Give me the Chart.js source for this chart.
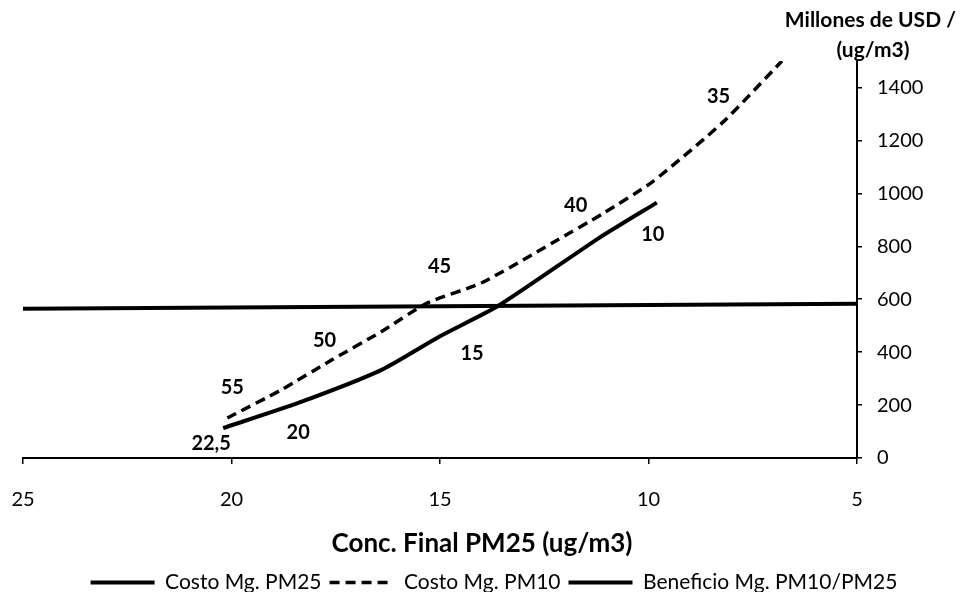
<!DOCTYPE html>
<html>
<head>
<meta charset="utf-8">
<script src="https://cdn.jsdelivr.net/npm/chart.js@4/dist/chart.umd.min.js"></script>
<style>
  html, body { margin: 0; padding: 0; background: #fff; }
  #wrap { width: 965px; height: 592px; }
</style>
</head>
<body>
<div id="wrap"><canvas id="myChart"></canvas></div>
<script>
// Costo marginal PM25 (linea continua)
const pm25X = [20.2, 18.4, 16.4, 15.0, 13.6, 11.2, 9.8];
const pm25Y = [113, 208, 333, 460, 575, 830, 965];
const pm25Labels = ["22,5", "20", "", "15", "", "", "10"];

// Costo marginal PM10 (linea discontinua)
const pm10X = [20.1, 18.8, 17.6, 16.4, 15.3, 14.0, 12.3, 11.1, 9.9, 8.2, 6.8];
const pm10Y = [151, 258, 370, 478, 586, 662, 813, 923, 1044, 1271, 1500];
const pm10Labels = ["55", "", "50", "", "45", "", "", "40", "", "35", ""];

// Beneficio marginal
const benX = [25, 5];
const benY = [564, 583];

const xTicks = [25, 20, 15, 10, 5];
const yTitle = ["Millones de USD /", "(ug/m3)"];
const xTitle = "Conc. Final PM25 (ug/m3)";

const FONT = "Lato, 'Open Sans', sans-serif";

function pts(xs, ys) {
  return xs.map((x, i) => ({x: x, y: ys[i]}));
}

// label offsets (px) relative to each labelled point
const labelOffsets = {
  0: {"22,5": [-12, 15], "20": [0, 30], "15": [32, 17], "10": [-4, 32]},
  1: {"55": [5, -30], "50": [-7, -20], "45": [12, -36], "40": [-27, -8], "35": [-5, -25]}
};
const pointLabels = [pm25Labels, pm10Labels];

const labelPlugin = {
  id: "pointLabels",
  afterDatasetsDraw(chart) {
    const ctx = chart.ctx;
    ctx.save();
    ctx.font = "bold 20px " + FONT;
    ctx.fillStyle = "#000";
    ctx.textAlign = "center";
    ctx.textBaseline = "middle";
    pointLabels.forEach((labs, di) => {
      const meta = chart.getDatasetMeta(di);
      labs.forEach((txt, i) => {
        if (!txt) return;
        const el = meta.data[i];
        const off = labelOffsets[di][txt] || [0, -18];
        ctx.fillText(txt, el.x + off[0], el.y + off[1]);
      });
    });
    // y axis title on top of right axis
    const ax = chart.scales.y.left;
    ctx.font = "bold 21px " + FONT;
    ctx.textAlign = "right";
    ctx.fillText(yTitle[0], 956, 20);
    ctx.textAlign = "center";
    ctx.fillText(yTitle[1], ax + 16, 50);
    // x axis title, centred on the page
    ctx.font = "bold 26px " + FONT;
    ctx.fillText(xTitle, 482, 544);
    ctx.restore();
  }
};

new Chart("myChart", {
  type: "line",
  data: {
    datasets: [{
      label: "Costo Mg. PM25",
      data: pts(pm25X, pm25Y),
      borderColor: "#000",
      backgroundColor: "#000",
      borderWidth: 4,
      pointRadius: 0,
      tension: 0.2
    }, {
      label: "Costo Mg. PM10",
      data: pts(pm10X, pm10Y),
      borderColor: "#000",
      backgroundColor: "#000",
      borderWidth: 3.5,
      borderDash: [10, 6],
      pointRadius: 0,
      tension: 0.2
    }, {
      label: "Beneficio Mg. PM10/PM25",
      data: pts(benX, benY),
      borderColor: "#000",
      backgroundColor: "#000",
      borderWidth: 4,
      pointRadius: 0
    }]
  },
  options: {
    responsive: true,
    maintainAspectRatio: false,
    animation: false,
    layout: { padding: { left: 23, top: 61, right: 0, bottom: -11 } },
    plugins: {
      tooltip: { enabled: false },
      legend: {
        position: "bottom",
        labels: {
          usePointStyle: true,
          pointStyle: "line",
          pointStyleWidth: 64,
          color: "#000",
          padding: 8,
          font: { family: FONT, size: 21 },
          generateLabels: (chart) => chart.data.datasets.map((ds, i) => ({
            text: ds.label,
            fillStyle: "#000",
            strokeStyle: "#000",
            lineWidth: ds.borderWidth,
            lineDash: ds.borderDash || [],
            pointStyle: "line",
            fontColor: "#000",
            hidden: false,
            datasetIndex: i
          }))
        }
      }
    },
    scales: {
      x: {
        type: "linear",
        min: 5,
        max: 25,
        reverse: true,
        afterBuildTicks: (s) => { s.ticks = xTicks.map(v => ({value: v})); },
        afterFit: (s) => { s.height = 106; s.paddingLeft = 0; s.paddingRight = 0; },
        grid: { display: true, drawOnChartArea: false, drawTicks: true, tickLength: 6, color: "#000", lineWidth: 1.5 },
        border: { display: true, color: "#000", width: 2 },
        ticks: { color: "#000", padding: 24, font: { family: FONT, size: 20 } }
      },
      y: {
        position: "right",
        min: 0,
        max: 1500,
        afterFit: (s) => { s.width = 108; },
        grid: { display: true, drawOnChartArea: false, drawTicks: true, tickLength: 5, color: "#000", lineWidth: 1.5 },
        border: { display: true, color: "#000", width: 2 },
        ticks: {
          stepSize: 200,
          includeBounds: false,
          color: "#000",
          padding: 15,
          font: { family: FONT, size: 20 },
          callback: (v) => (v > 1400 ? "" : v)
        }
      }
    }
  },
  plugins: [labelPlugin]
});
</script>
</body>
</html>
